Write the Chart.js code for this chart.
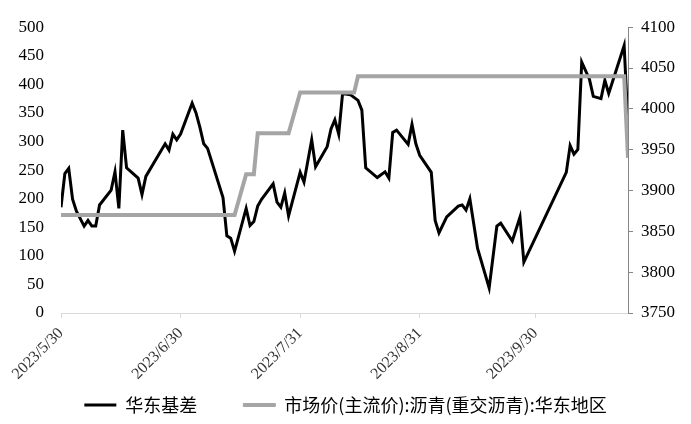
<!DOCTYPE html>
<html>
<head>
<meta charset="utf-8">
<script src="https://cdn.jsdelivr.net/npm/chart.js@4/dist/chart.umd.min.js"></script>
<style>
  html, body { margin: 0; padding: 0; background: #fff; }
</style>
</head>
<body>
<canvas id="grafico" width="691" height="424"></canvas>
<script>
// 华东基差 (左轴)
const basisDates = [
  '2023-05-30','2023-05-31','2023-06-01','2023-06-02','2023-06-03','2023-06-05','2023-06-06','2023-06-07',
  '2023-06-08','2023-06-09','2023-06-12','2023-06-13','2023-06-14','2023-06-15','2023-06-16','2023-06-19',
  '2023-06-20','2023-06-21','2023-06-26','2023-06-27','2023-06-28','2023-06-29','2023-06-30','2023-07-03',
  '2023-07-04','2023-07-05','2023-07-06','2023-07-07','2023-07-11','2023-07-12','2023-07-13','2023-07-14',
  '2023-07-17','2023-07-18','2023-07-19','2023-07-20','2023-07-21','2023-07-24','2023-07-25','2023-07-26',
  '2023-07-27','2023-07-28','2023-07-31','2023-08-01','2023-08-03','2023-08-04','2023-08-07','2023-08-08',
  '2023-08-09','2023-08-10','2023-08-11','2023-08-13','2023-08-15','2023-08-16','2023-08-17','2023-08-20',
  '2023-08-22','2023-08-23','2023-08-24','2023-08-25','2023-08-28','2023-08-29','2023-08-30','2023-08-31',
  '2023-09-03','2023-09-04','2023-09-05','2023-09-07','2023-09-10','2023-09-11','2023-09-12','2023-09-13',
  '2023-09-15','2023-09-18','2023-09-20','2023-09-21','2023-09-24','2023-09-26','2023-09-27','2023-10-08',
  '2023-10-09','2023-10-10','2023-10-11','2023-10-12','2023-10-14','2023-10-15','2023-10-17','2023-10-18',
  '2023-10-19','2023-10-23','2023-10-24'
];
const basisValues = [
  185, 244, 253, 199, 178, 152, 162, 152,
  152, 189, 215, 247, 183, 320, 254, 236,
  207, 239, 296, 285, 313, 303, 313, 367,
  350, 325, 296, 288, 202, 135, 131, 108,
  183, 153, 160, 187, 199, 226, 194, 185,
  210, 170, 246, 229, 303, 256, 291, 322,
  338, 313, 384, 382, 372, 355, 254, 237,
  247, 236, 316, 320, 295, 330, 296, 276,
  246, 162, 140, 168, 187, 189, 180, 200,
  113, 44, 152, 157, 126, 168, 89, 246,
  293, 278, 286, 439, 409, 379, 375, 407,
  384, 468, 330
];

// 市场价(主流价):沥青(重交沥青):华东地区 (右轴)
const priceDates = [
  '2023-05-30','2023-07-14','2023-07-17','2023-07-19','2023-07-20','2023-07-28',
  '2023-07-31','2023-08-14','2023-08-15','2023-10-23','2023-10-24'
];
const priceValues = [3870, 3870, 3920, 3920, 3970, 3970, 4020, 4020, 4040, 4040, 3940];

const startDate = '2023-05-30';
const endDate = '2023-10-24';
const monthTicks = ['2023-05-30','2023-06-30','2023-07-31','2023-08-31','2023-09-30'];
const seriesNames = ['华东基差', '市场价(主流价):沥青(重交沥青):华东地区'];

function toDay(s) {
  const [y, m, d] = s.split('-').map(Number);
  const [y0, m0, d0] = startDate.split('-').map(Number);
  return Math.round((Date.UTC(y, m - 1, d) - Date.UTC(y0, m0 - 1, d0)) / 86400000);
}
function fromDay(n) {
  const [y0, m0, d0] = startDate.split('-').map(Number);
  const dt = new Date(Date.UTC(y0, m0 - 1, d0) + n * 86400000);
  return dt.getUTCFullYear() + '/' + (dt.getUTCMonth() + 1) + '/' + dt.getUTCDate();
}

const serif = '"Liberation Serif", "DejaVu Serif", serif';
const cjk = '"Noto Sans CJK SC", sans-serif';

const ctx = document.getElementById('grafico').getContext('2d');
const grafico = new Chart(ctx, {
    type: 'line',
    data: {
        datasets: [{
            label: seriesNames[0],
            data: basisDates.map((d, i) => ({ x: toDay(d), y: basisValues[i] })),
            borderColor: '#000000',
            backgroundColor: '#000000',
            borderWidth: 3,
            pointRadius: 0,
            tension: 0,
            yAxisID: 'y',
            order: 1
        }, {
            label: seriesNames[1],
            data: priceDates.map((d, i) => ({ x: toDay(d), y: priceValues[i] })),
            borderColor: '#a5a5a5',
            backgroundColor: '#a5a5a5',
            borderWidth: 4,
            pointRadius: 0,
            tension: 0,
            yAxisID: 'y2',
            order: 0
        }]
    },
    options: {
        responsive: false,
        animation: false,
        layout: { padding: { top: 16, left: 0, right: 0, bottom: 0 } },
        plugins: {
            tooltip: { enabled: false },
            legend: {
                position: 'bottom',
                labels: {
                    font: { family: cjk, size: 18 },
                    color: '#000000',
                    boxWidth: 32,
                    boxHeight: 3,
                    padding: 10,
                    sort: (a, b) => a.datasetIndex - b.datasetIndex,
                    generateLabels: function(chart) {
                        const items = Chart.defaults.plugins.legend.labels.generateLabels(chart);
                        items.forEach(function(it) {
                            it.fillStyle = it.strokeStyle;
                            it.lineWidth = it.datasetIndex === 1 ? 1 : 0;
                            if (it.datasetIndex === 0) it.text = it.text + '\u3000\u3000';
                        });
                        return items;
                    }
                }
            }
        },
        scales: {
            x: {
                type: 'linear',
                min: 0,
                max: toDay(endDate),
                afterBuildTicks: function(scale) {
                    scale.ticks = monthTicks.map(d => ({ value: toDay(d) }));
                },
                afterFit: function(scale) { scale.height = 73; },
                ticks: {
                    autoSkip: false,
                    minRotation: 45,
                    maxRotation: 45,
                    padding: 6,
                    color: '#333333',
                    font: { family: serif, size: 16 },
                    callback: v => fromDay(v)
                },
                grid: { drawOnChartArea: false, color: '#d9d9d9', tickLength: 5 },
                border: { color: '#d9d9d9', width: 1 }
            },
            y: {
                position: 'left',
                min: 0,
                max: 500,
                afterFit: function(scale) { scale.width = 61; },
                ticks: {
                    stepSize: 50,
                    padding: 17,
                    color: '#000000',
                    font: { family: serif, size: 17 },
                    callback: v => String(v)
                },
                grid: { display: false, drawTicks: false },
                border: { display: false }
            },
            y2: {
                position: 'right',
                min: 3750,
                max: 4100,
                afterFit: function(scale) { scale.width = 63; },
                ticks: {
                    stepSize: 50,
                    padding: 8,
                    color: '#000000',
                    font: { family: serif, size: 17 },
                    callback: v => String(v)
                },
                grid: { drawOnChartArea: false, color: '#868686', tickLength: 5 },
                border: { color: '#868686', width: 1 }
            }
        }
    }
});
</script>
</body>
</html>
